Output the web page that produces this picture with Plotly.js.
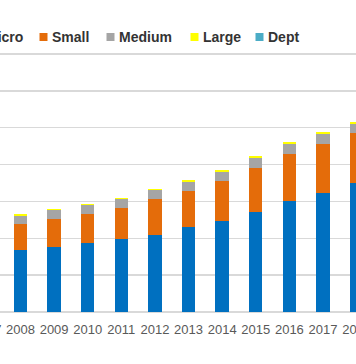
<!DOCTYPE html>
<html>
<head>
<meta charset="utf-8">
<script src="https://cdn.plot.ly/plotly-3.0.1.min.js"></script>
<style>
html,body{margin:0;padding:0;background:#fff;overflow:hidden;width:356px;height:364px;}
#wrap{position:relative;width:356px;height:364px;overflow:hidden;}
#chart{position:absolute;left:-40px;top:0;width:436px;height:364px;}
</style>
</head>
<body>
<div id="wrap"><div id="chart"></div></div>
<script>
// Data (2007 lies outside the visible crop, its values are unreadable)
const years = ['2007','2008','2009','2010','2011','2012','2013','2014','2015','2016','2017','2018'];
const micro  = [null, 16.8, 17.6, 18.6, 19.8, 21.0, 23.1, 24.6, 27.2, 30.1, 32.2, 34.9];
const small  = [null, 7.2, 7.6, 8.0, 8.4, 9.7, 9.8, 10.9, 12.0, 12.9, 13.5, 13.6];
const medium = [null, 2.1, 2.4, 2.3, 2.4, 2.3, 2.4, 2.4, 2.6, 2.6, 2.5, 2.5];
const large  = [null, 0.45, 0.45, 0.45, 0.45, 0.45, 0.5, 0.5, 0.55, 0.5, 0.55, 0.55];
const dept   = [null, 0, 0, 0, 0, 0, 0, 0, 0, 0, 0, 0];
const seriesNames = ['Micro', 'Small', 'Medium', 'Large', 'Dept'];

const colors = ['#0070C0', '#E46C0A', '#A5A5A5', '#FFFF00', '#4BACC6'];
const values = [micro, small, medium, large, dept];

const traces = seriesNames.map((n, i) => ({
  type: 'bar', name: n, x: years, y: values[i],
  marker: {color: colors[i], line: {width: 0}},
  showlegend: false, hoverinfo: 'x+y+name'
}));

const OFF = 40;               // chart is wider than the window, shifted left
const W = 436, H = 364, mt = 44, mb = 52;
const ph = H - mt - mb;
const unitPx = (312 - 54) / 70;           // 0 at y=312, 70 at y=54
const yTop = (H - mb - mt) / unitPx;
const px2x = p => (p + OFF) / W;          // page px -> paper x
const py2y = p => (H - mb - p) / ph;      // page px -> paper y

// Custom legend (Excel style): small squares + bold text
const legendTextX = [-15.5, 51, 118, 202, 267];
const legendCY = 37;
const shapes = [], annotations = [];
seriesNames.forEach((n, i) => {
  const tx = legendTextX[i];
  shapes.push({type: 'rect', xref: 'paper', yref: 'paper',
    x0: px2x(tx - 11.5), x1: px2x(tx - 3.5),
    y0: py2y(legendCY + 4), y1: py2y(legendCY - 4),
    fillcolor: colors[i], line: {width: 0}});
  annotations.push({xref: 'paper', yref: 'paper', x: px2x(tx), y: py2y(legendCY),
    xanchor: 'left', yanchor: 'middle', showarrow: false, text: n,
    font: {family: 'Liberation Sans, Arial, sans-serif', size: 14, color: '#333333', weight: 'bold'},
    borderpad: 0});
});

// category index 1 (2008) sits at page x 20.5, spacing 33.61 px
const step = 33.61;
const x0idx = 1 - (20.5 + OFF) / step;
const x1idx = x0idx + W / step;

const layout = {
  width: W, height: H,
  margin: {l: 0, r: 0, t: mt, b: mb, pad: 0},
  paper_bgcolor: '#ffffff', plot_bgcolor: '#ffffff',
  barmode: 'stack', bargap: 0.6,
  showlegend: false,
  xaxis: {type: 'category', categoryorder: 'array', categoryarray: years,
    range: [x0idx, x1idx], showgrid: false, zeroline: false, showline: false,
    ticks: '', ticklabelstandoff: 8,
    tickfont: {family: 'Liberation Sans, Arial, sans-serif', size: 13, color: '#595959'},
    fixedrange: true},
  yaxis: {range: [0, yTop], dtick: 10, tick0: 0, showticklabels: false, ticks: '',
    showgrid: true, gridcolor: '#D9D9D9', gridwidth: 1.3,
    zeroline: true, zerolinecolor: '#D9D9D9', zerolinewidth: 1.3, showline: false, fixedrange: true},
  shapes: shapes, annotations: annotations
};

Plotly.newPlot('chart', traces, layout, {displayModeBar: false, staticPlot: true});
</script>
</body>
</html>
